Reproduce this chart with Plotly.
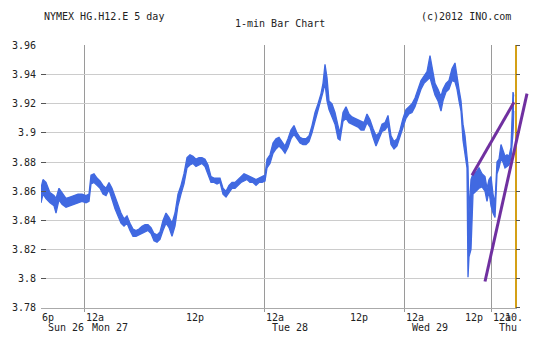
import plotly.graph_objects as go

# ---- data (bar position along the 5-day 1-min bar axis, low / high price) ----
bar = [0, 2, 5, 9, 13, 15, 18, 21, 25, 29, 33, 37, 41, 45, 48, 50, 53, 56, 59, 62,
       65, 68, 71, 74, 77, 80, 83, 86, 89, 92, 95, 98, 101, 104, 107, 110, 113, 116, 119, 122,
       125, 128, 131, 134, 137, 140, 143, 146, 149, 152, 155, 158, 161, 164, 167, 170, 173, 176, 179, 182,
       185, 188, 191, 194, 197, 200, 203, 206, 209, 212, 215, 218, 221, 224, 226, 229, 232, 235, 238, 241,
       244, 247, 250, 253, 256, 259, 262, 265, 268, 271, 274, 277, 280, 282, 284, 286, 288, 291, 294, 297,
       299, 302, 305, 308, 311, 314, 317, 320, 323, 326, 329, 332, 335, 338, 341, 344, 347, 350, 353, 356,
       359, 362, 365, 368, 371, 374, 377, 380, 383, 386, 389, 391, 394, 397, 400, 402, 405, 408, 411, 414,
       416, 418, 420, 422, 424, 426, 427, 428, 430, 432, 435, 438, 441, 444, 446, 448, 450, 452, 454, 456,
       458, 460, 462, 464, 466, 468, 470, 472, 473]
low = [3.852, 3.858, 3.855, 3.852, 3.850, 3.845, 3.854, 3.851, 3.849, 3.850, 3.851, 3.852, 3.853, 3.852, 3.853, 3.865, 3.866, 3.864, 3.862, 3.858,
       3.857, 3.861, 3.854, 3.848, 3.843, 3.838, 3.836, 3.838, 3.833, 3.829, 3.829, 3.830, 3.831, 3.832, 3.833, 3.831, 3.826, 3.825, 3.827, 3.833,
       3.838, 3.835, 3.829, 3.836, 3.850, 3.858, 3.865, 3.876, 3.878, 3.879, 3.877, 3.878, 3.879, 3.877, 3.872, 3.866, 3.866, 3.865, 3.866, 3.858,
       3.856, 3.859, 3.862, 3.862, 3.864, 3.866, 3.867, 3.868, 3.866, 3.866, 3.864, 3.866, 3.866, 3.867, 3.876, 3.879, 3.886, 3.889, 3.891, 3.889,
       3.886, 3.890, 3.896, 3.899, 3.896, 3.893, 3.892, 3.892, 3.894, 3.900, 3.908, 3.915, 3.922, 3.928, 3.934, 3.922, 3.916, 3.911, 3.906, 3.896,
       3.895, 3.908, 3.910, 3.907, 3.906, 3.905, 3.904, 3.902, 3.902, 3.907, 3.904, 3.897, 3.891, 3.896, 3.901, 3.902, 3.905, 3.892, 3.889, 3.891,
       3.897, 3.903, 3.910, 3.913, 3.914, 3.918, 3.924, 3.930, 3.934, 3.936, 3.938, 3.933, 3.926, 3.922, 3.915, 3.922, 3.928, 3.930, 3.936, 3.935,
       3.930, 3.922, 3.915, 3.895, 3.885, 3.876, 3.801, 3.815, 3.820, 3.858, 3.860, 3.862, 3.863, 3.860, 3.853, 3.860, 3.850, 3.845, 3.842, 3.872,
       3.876, 3.882, 3.880, 3.876, 3.877, 3.878, 3.883, 3.900, 3.915]
high = [3.862, 3.868, 3.866, 3.859, 3.857, 3.855, 3.862, 3.859, 3.855, 3.856, 3.857, 3.858, 3.858, 3.857, 3.858, 3.871, 3.872, 3.869, 3.867, 3.864,
        3.862, 3.866, 3.862, 3.856, 3.850, 3.845, 3.841, 3.843, 3.838, 3.834, 3.833, 3.834, 3.836, 3.837, 3.837, 3.835, 3.831, 3.830, 3.832, 3.840,
        3.845, 3.842, 3.838, 3.845, 3.858, 3.864, 3.872, 3.883, 3.885, 3.884, 3.882, 3.883, 3.883, 3.882, 3.878, 3.870, 3.869, 3.869, 3.869, 3.862,
        3.860, 3.864, 3.866, 3.866, 3.868, 3.870, 3.872, 3.871, 3.870, 3.869, 3.868, 3.869, 3.870, 3.871, 3.882, 3.885, 3.893, 3.896, 3.897, 3.894,
        3.891, 3.896, 3.902, 3.905, 3.900, 3.897, 3.896, 3.896, 3.898, 3.905, 3.914, 3.920, 3.927, 3.934, 3.947, 3.938, 3.922, 3.920, 3.914, 3.905,
        3.900, 3.914, 3.918, 3.913, 3.911, 3.910, 3.909, 3.908, 3.907, 3.913, 3.909, 3.903, 3.898, 3.900, 3.906, 3.907, 3.912, 3.898, 3.894, 3.896,
        3.902, 3.910, 3.916, 3.918, 3.920, 3.924, 3.930, 3.936, 3.939, 3.942, 3.953, 3.945, 3.934, 3.930, 3.925, 3.930, 3.934, 3.936, 3.944, 3.948,
        3.937, 3.930, 3.922, 3.906, 3.898, 3.885, 3.877, 3.845, 3.868, 3.872, 3.873, 3.876, 3.872, 3.870, 3.862, 3.868, 3.870, 3.858, 3.852, 3.880,
        3.882, 3.892, 3.888, 3.884, 3.885, 3.884, 3.890, 3.928, 3.925]

# trend lines drawn on the chart (bar position, price)
trend1_x = [431, 473]
trend1_y = [3.871, 3.921]
trend2_x = [444, 486]
trend2_y = [3.798, 3.927]

# axis labels
y_ticks = [3.78, 3.80, 3.82, 3.84, 3.86, 3.88, 3.90, 3.92, 3.94, 3.96]
y_ticktext = ["3.78", "3.8", "3.82", "3.84", "3.86", "3.88", "3.9", "3.92", "3.94", "3.96"]
day_start = [43.5, 223.5, 363.5, 450.5]
time_pos = [0, 43.5, 143.5, 223.5, 307.5, 363.5, 423, 450.5, 462.5]
time_text = ["6p", "12a", "12p", "12a", "12p", "12a", "12p", "12a", "10."]
day_pos = [0, 43.5, 223.5, 363.5, 450.5]
day_text = ["Sun 26", "Mon 27", "Tue 28", "Wed 29", "Thu"]

FONT = "DejaVu Sans Mono"
TXT = "#222222"
BLUE = "#4169E1"
W, H = 548, 350
X0, X1 = 41.0, 514.5      # plot area px
YT, YB = 41.7, 312.7

fig = go.Figure()
fig.add_trace(go.Scatter(x=bar, y=high, mode="lines", line=dict(color=BLUE, width=1.3),
                         hoverinfo="skip", showlegend=False))
fig.add_trace(go.Scatter(x=bar, y=low, mode="lines", line=dict(color=BLUE, width=1.3),
                         fill="tonexty", fillcolor=BLUE, hoverinfo="skip", showlegend=False))
# right-hand axis carrier
fig.add_trace(go.Scatter(x=[bar[0]], y=[low[0]], yaxis="y2", mode="markers",
                         marker=dict(opacity=0), hoverinfo="skip", showlegend=False))
# trend lines (own, unclipped-width subplot so they can run past the last bar)
for tx, ty in ((trend1_x, trend1_y), (trend2_x, trend2_y)):
    fig.add_trace(go.Scatter(x=tx, y=ty, xaxis="x3", yaxis="y3", mode="lines",
                             line=dict(color="#7030A0", width=3), hoverinfo="skip", showlegend=False))

ydom = [(H - YB) / H, (H - YT) / H]
yrange = [3.78, 3.96 + 1.0 / 1500]
x3_right = 530.0

fig.update_layout(
    width=W, height=H, margin=dict(l=0, r=0, t=0, b=0),
    paper_bgcolor="white", plot_bgcolor="rgba(0,0,0,0)",
    font=dict(family=FONT, size=10, color=TXT),
    xaxis=dict(domain=[X0 / W, X1 / W], range=[0, X1 - X0], tickvals=day_start,
               showticklabels=False, ticks="outside", ticklen=3, tickcolor="#999999",
               showgrid=True, gridcolor="#9a9a9a", gridwidth=1, zeroline=False,
               showline=True, linecolor="#aaaaaa", linewidth=1, anchor="y"),
    yaxis=dict(domain=ydom, range=yrange, tickvals=y_ticks, ticktext=y_ticktext,
               ticks="inside", ticklen=5, tickcolor="#555555", ticklabelstandoff=4,
               showgrid=True, gridcolor="#cccccc", gridwidth=1, zeroline=False,
               showline=False, tickfont=dict(family=FONT, size=10, color=TXT)),
    yaxis2=dict(overlaying="y", side="right", range=yrange, tickvals=y_ticks,
                showticklabels=False, ticks="outside", ticklen=4, tickcolor="#555555",
                showgrid=False, zeroline=False, showline=True, linecolor="#D4A017", linewidth=1.5,
                anchor="x"),
    xaxis3=dict(domain=[X0 / W, x3_right / W], range=[0, x3_right - X0], visible=False,
                anchor="y3"),
    yaxis3=dict(domain=ydom, range=yrange, visible=False, anchor="x3"),
)

ann = []
for p, t in zip(time_pos, time_text):
    ann.append(dict(x=p, y=(H - 322.5) / H, xref="x", yref="paper", text=t, showarrow=False,
                    xanchor="left", yanchor="middle", xshift=-1, font=dict(family=FONT, size=10, color=TXT)))
for p, t in zip(day_pos, day_text):
    ann.append(dict(x=p, y=(H - 332.5) / H, xref="x", yref="paper", text="\u00a0" + t, showarrow=False,
                    xanchor="left", yanchor="middle", xshift=-1, font=dict(family=FONT, size=10, color=TXT)))
ann.append(dict(x=42 / W, y=(H - 13) / H, xref="paper", yref="paper", text="NYMEX HG.H12.E 5 day",
                showarrow=False, xanchor="left", yanchor="middle", font=dict(family=FONT, size=10, color=TXT)))
ann.append(dict(x=279.5 / W, y=(H - 20) / H, xref="paper", yref="paper", text="1-min Bar Chart",
                showarrow=False, xanchor="center", yanchor="middle", font=dict(family=FONT, size=10, color=TXT)))
ann.append(dict(x=513 / W, y=(H - 13) / H, xref="paper", yref="paper", text="(c)2012 INO.com",
                showarrow=False, xanchor="right", yanchor="middle", font=dict(family=FONT, size=10, color=TXT)))
fig.update_layout(annotations=ann)

fig.write_html("out.html")
